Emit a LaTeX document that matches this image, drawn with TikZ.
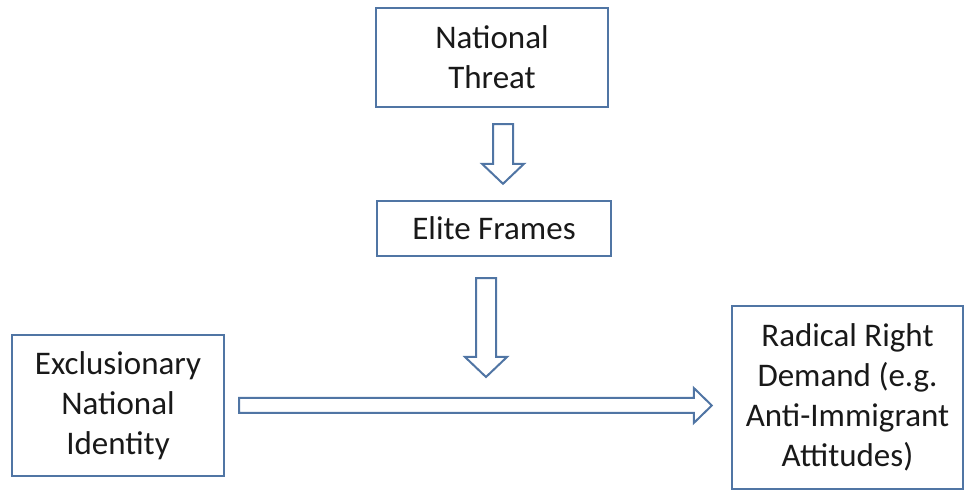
\documentclass[tikz,border=0pt]{standalone}
\usepackage{fontspec}
\setmainfont{Carlito}
\usetikzlibrary{calc}
\definecolor{boxblue}{RGB}{80,117,164}

\tikzset{
  stepbox/.style={draw=boxblue, line width=1.2pt, align=center, inner sep=0pt,
    font=\fontsize{16.5}{20}\selectfont, text=black!90},
  blockarrow/.style={draw=boxblue, line width=1pt, fill=white, line join=miter}
}
% hollow block arrows: #1 tail coordinate, #2 tip coordinate
\newcommand{\downblock}[2]{%
  \draw[blockarrow] let \p1=(#1), \p2=(#2) in
    (\x1-5pt,\y1) -- (\x1+5pt,\y1) -- (\x1+5pt,\y2+10pt) -- (\x1+10.5pt,\y2+10pt)
    -- (\x1,\y2) -- (\x1-10.5pt,\y2+10pt) -- (\x1-5pt,\y2+10pt) -- cycle;}
\newcommand{\rightblock}[2]{%
  \draw[blockarrow] let \p1=(#1), \p2=(#2) in
    (\x1,\y1+3.75pt) -- (\x2-9pt,\y1+3.75pt) -- (\x2-9pt,\y1+8.75pt) -- (\x2,\y1)
    -- (\x2-9pt,\y1-8.75pt) -- (\x2-9pt,\y1-3.75pt) -- (\x1,\y1-3.75pt) -- cycle;}

\begin{document}
\begin{tikzpicture}[x=0.5pt, y=-0.5pt]
\useasboundingbox (0,0) rectangle (970,491);
\node[stepbox, minimum width=116pt, minimum height=49.5pt] (threat) at (492,57.5) {National\\Threat};
\node[stepbox, minimum width=117pt, minimum height=27.5pt] (elite) at (494,228.5) {Elite Frames};
\node[stepbox, minimum width=106pt, minimum height=70.5pt] (identity) at (118,405.5) {Exclusionary\\National\\Identity};
\node[stepbox, minimum width=115.5pt, minimum height=91.5pt] (demand) at (847.5,397.5) {Radical Right\\Demand (e.g.\\Anti-Immigrant\\Attitudes)};

\coordinate (a1top) at ([xshift=5.5pt, yshift=-8pt]threat.south);
\coordinate (a1tip) at ([yshift=8pt]elite.north);
\coordinate (a2top) at ([xshift=-4pt, yshift=-10.5pt]elite.south);
\coordinate (a2tip) at (486,377);
\coordinate (a3tail) at ([xshift=7pt]identity.east);
\coordinate (a3tip) at ([xshift=-9.5pt]demand.west);

\downblock{a1top}{a1tip}
\downblock{a2top}{a2tip}
\rightblock{a3tail}{a3tip}
\end{tikzpicture}
\end{document}
